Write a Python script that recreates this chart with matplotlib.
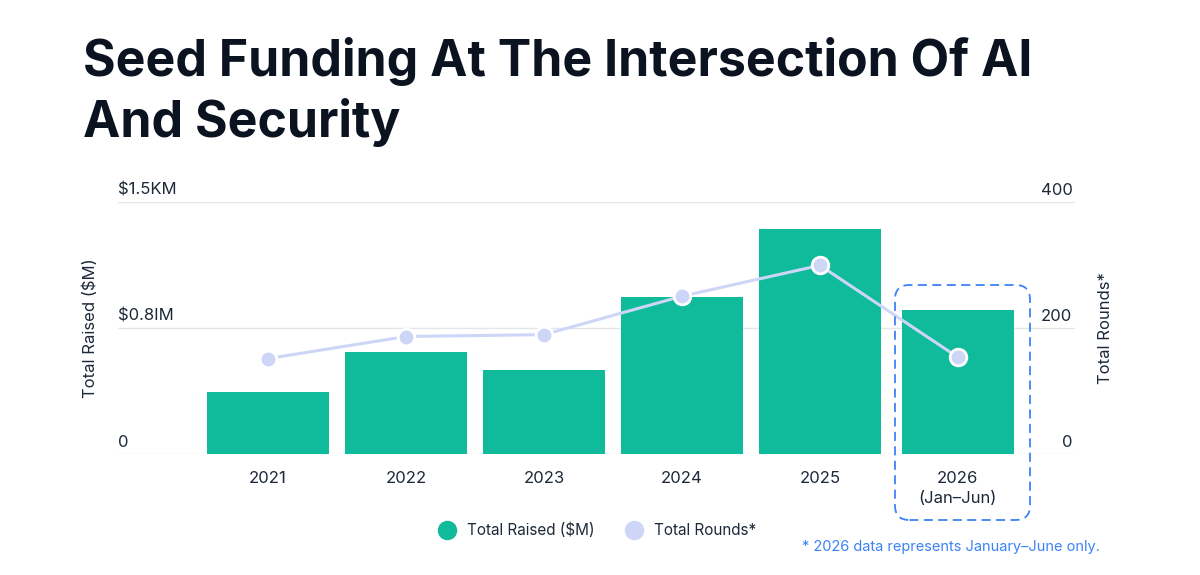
import numpy as np
import matplotlib.pyplot as plt
from matplotlib.patches import FancyBboxPatch
from matplotlib.lines import Line2D

plt.rcParams['font.family'] = ['Inter', 'DejaVu Sans']

# data
years = ['2021', '2022', '2023', '2024', '2025', '2026\n(Jan–Jun)']
raised = [0.40, 0.66, 0.54, 1.01, 1.45, 0.93]      # $M
rounds = [152, 187, 190, 251, 300, 154]
left_ticks = [0, 0.81, 1.62]
left_labels = ['0', '$0.8IM', '$1.5KM']
right_ticks = [0, 200, 400]

bar_color = '#0fbb9b'
line_color = '#cdd6f7'
text_color = '#1d2939'
blue = '#3b82f6'

fig = plt.figure(figsize=(12, 5.75), dpi=100)
ax = fig.add_axes([0.098, 0.21, 0.798, 0.438])
ax2 = ax.twinx()

x = np.arange(len(years))
widths = [0.89] * 5 + [0.81]
ax.bar(x, raised, width=widths, color=bar_color, zorder=2)
ax2.plot(x, rounds, color=line_color, lw=2.2, zorder=3,
         marker='o', ms=12, mfc=line_color, mec='white', mew=2)

ax.set_xlim(-1.09, 5.85)
ax.set_ylim(0, 1.62)
ax2.set_ylim(0, 400)

for s in ['top', 'right', 'left', 'bottom']:
    ax.spines[s].set_visible(False)
    ax2.spines[s].set_visible(False)

# gridlines with labels sitting above them
ax.set_yticks([])
ax2.set_yticks([])
for v, lab in zip(left_ticks, left_labels):
    ax.axhline(v, color='#e4e6ea', lw=1, zorder=1)
    ax.text(-1.09, v + 0.03, lab, ha='left', va='bottom', fontsize=12,
            color=text_color)
for v in right_ticks:
    ax2.text(5.83, v + 7.5, str(v), ha='right', va='bottom', fontsize=12,
             color=text_color)

ax.set_xticks(x)
ax.set_xticklabels(years, fontsize=12, color=text_color, linespacing=1.4)
ax.tick_params(axis='x', length=0, pad=12)

fig.text(0.075, 0.43, 'Total Raised ($M)', rotation=90, ha='center',
         va='center', fontsize=12, color=text_color)
fig.text(0.921, 0.43, 'Total Rounds*', rotation=90, ha='center',
         va='center', fontsize=12, color=text_color)

# title
fig.text(0.069, 0.935, 'Seed Funding At The Intersection Of AI\nAnd Security',
         ha='left', va='top', fontsize=36, fontweight='bold', color='#0b1320',
         linespacing=1.3)

# dashed highlight box around 2026
x0, y0 = 895 / 1200, 1 - 520 / 575
x1, y1 = 1030 / 1200, 1 - 285 / 575
box = FancyBboxPatch((x0, y0), x1 - x0, y1 - y0,
                     boxstyle='round,pad=0,rounding_size=0.012',
                     transform=fig.transFigure, fill=False, ec=blue, lw=1.3,
                     ls=(0, (5, 3)), mutation_aspect=2.09, zorder=5)
fig.add_artist(box)

# legend
handles = [Line2D([], [], marker='o', ls='', ms=13, color=bar_color),
           Line2D([], [], marker='o', ls='', ms=13, color=line_color)]
fig.legend(handles, ['Total Raised ($M)', 'Total Rounds*'], loc='center',
           bbox_to_anchor=(0.495, 0.078), ncol=2, frameon=False, fontsize=11,
           labelcolor=text_color, handletextpad=0.3, columnspacing=1.6)

fig.text(0.668, 0.048, '* 2026 data represents January–June only.',
         ha='left', va='center', fontsize=10.5, color=blue)

fig.savefig('out.png', dpi=100, facecolor='white')
